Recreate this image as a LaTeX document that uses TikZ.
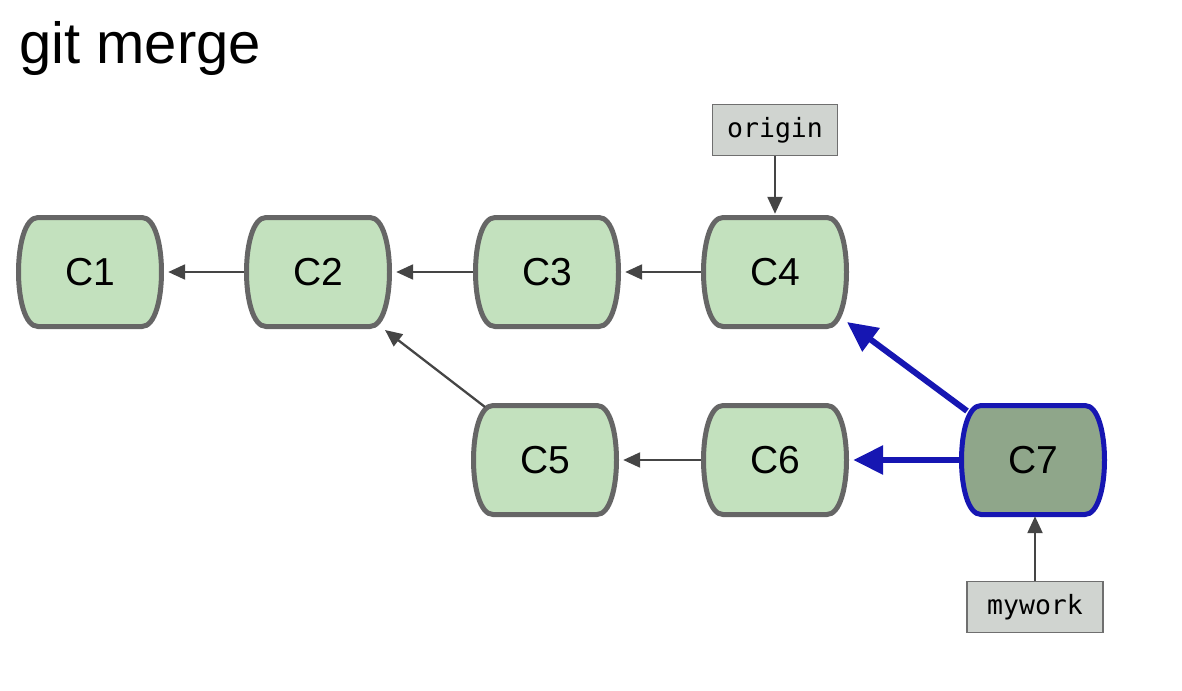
\documentclass[tikz,border=0pt]{standalone}
\usepackage{fontspec}
\setmainfont{Liberation Sans}
\newfontfamily\monofont{DejaVu Sans Mono}
\usetikzlibrary{arrows.meta,calc}
\definecolor{cgreen}{HTML}{C3E1BE}
\definecolor{cgray}{HTML}{666666}
\definecolor{cdark}{HTML}{8FA68A}
\definecolor{cblue}{HTML}{1616B2}
\definecolor{lblfill}{HTML}{D0D4D0}
\definecolor{lblline}{HTML}{6F6F6F}
\definecolor{arrgray}{HTML}{454545}
\tikzset{
  commit/.style={minimum width=148pt, minimum height=116pt, inner sep=0pt, font=\fontsize{39}{41}\selectfont},
  normalout/.style={draw=cgray, line width=5pt, fill=cgreen},
  headout/.style={draw=cblue, line width=5pt, fill=cdark},
  reflabel/.style={draw=lblline, line width=1.8pt, fill=lblfill, minimum width=125pt, minimum height=51pt, inner sep=0pt, font=\monofont\fontsize{26.5}{28}\selectfont},
  parent/.style={draw=arrgray, line width=2.3pt, -{Triangle[length=17pt,width=15pt]}},
  mergeparent/.style={draw=cblue, line width=6pt, -{Triangle[length=30pt,width=28pt]}},
}
\newcommand{\gitcommit}[5]{%
  \draw[#5] (#2-52,#3-54.5) -- (#2+52,#3-54.5) .. controls (#2+78,#3-54.5) and (#2+78,#3+54.5) .. (#2+52,#3+54.5) -- (#2-52,#3+54.5) .. controls (#2-78,#3+54.5) and (#2-78,#3-54.5) .. cycle;
  \node[commit] (#1) at (#2,#3) {#4};}
\begin{document}
\begin{tikzpicture}[x=1pt,y=-1pt]
\useasboundingbox (0,0) rectangle (1182,690);
\node[anchor=west, inner sep=0pt, font=\fontsize{58}{60}\selectfont] (title) at (19,49) {git merge};
\gitcommit{c1}{90}{272}{C1}{normalout}
\gitcommit{c2}{318}{272}{C2}{normalout}
\gitcommit{c3}{547}{272}{C3}{normalout}
\gitcommit{c4}{775}{272}{C4}{normalout}
\gitcommit{c5}{545}{460}{C5}{normalout}
\gitcommit{c6}{775}{460}{C6}{normalout}
\gitcommit{c7}{1033}{460}{C7}{headout}
\node[reflabel] (origin) at (775,130) {origin};
\node[reflabel, minimum width=136pt] (mywork) at (1035,607) {mywork};
\draw[parent] (c2.west) -- ($(c1.east)+(4,0)$);
\draw[parent] (c3.west) -- ($(c2.east)+(4,0)$);
\draw[parent] (c4.west) -- ($(c3.east)+(4,0)$);
\draw[parent] (c6.west) -- ($(c5.east)+(4,0)$);
\draw[parent] ($(c5)+(-60,-53)$) -- ($(c2)+(67,58)$);
\draw[parent] (origin.south) -- (c4.north);
\draw[parent] (mywork.north) -- ($(c7.south)+(2,-2)$);
\draw[mergeparent] ($(c7)+(-66,-49)$) -- ($(c4)+(72,50)$);
\draw[mergeparent] (c7.west) -- ($(c6.east)+(4,0)$);
\end{tikzpicture}
\end{document}
